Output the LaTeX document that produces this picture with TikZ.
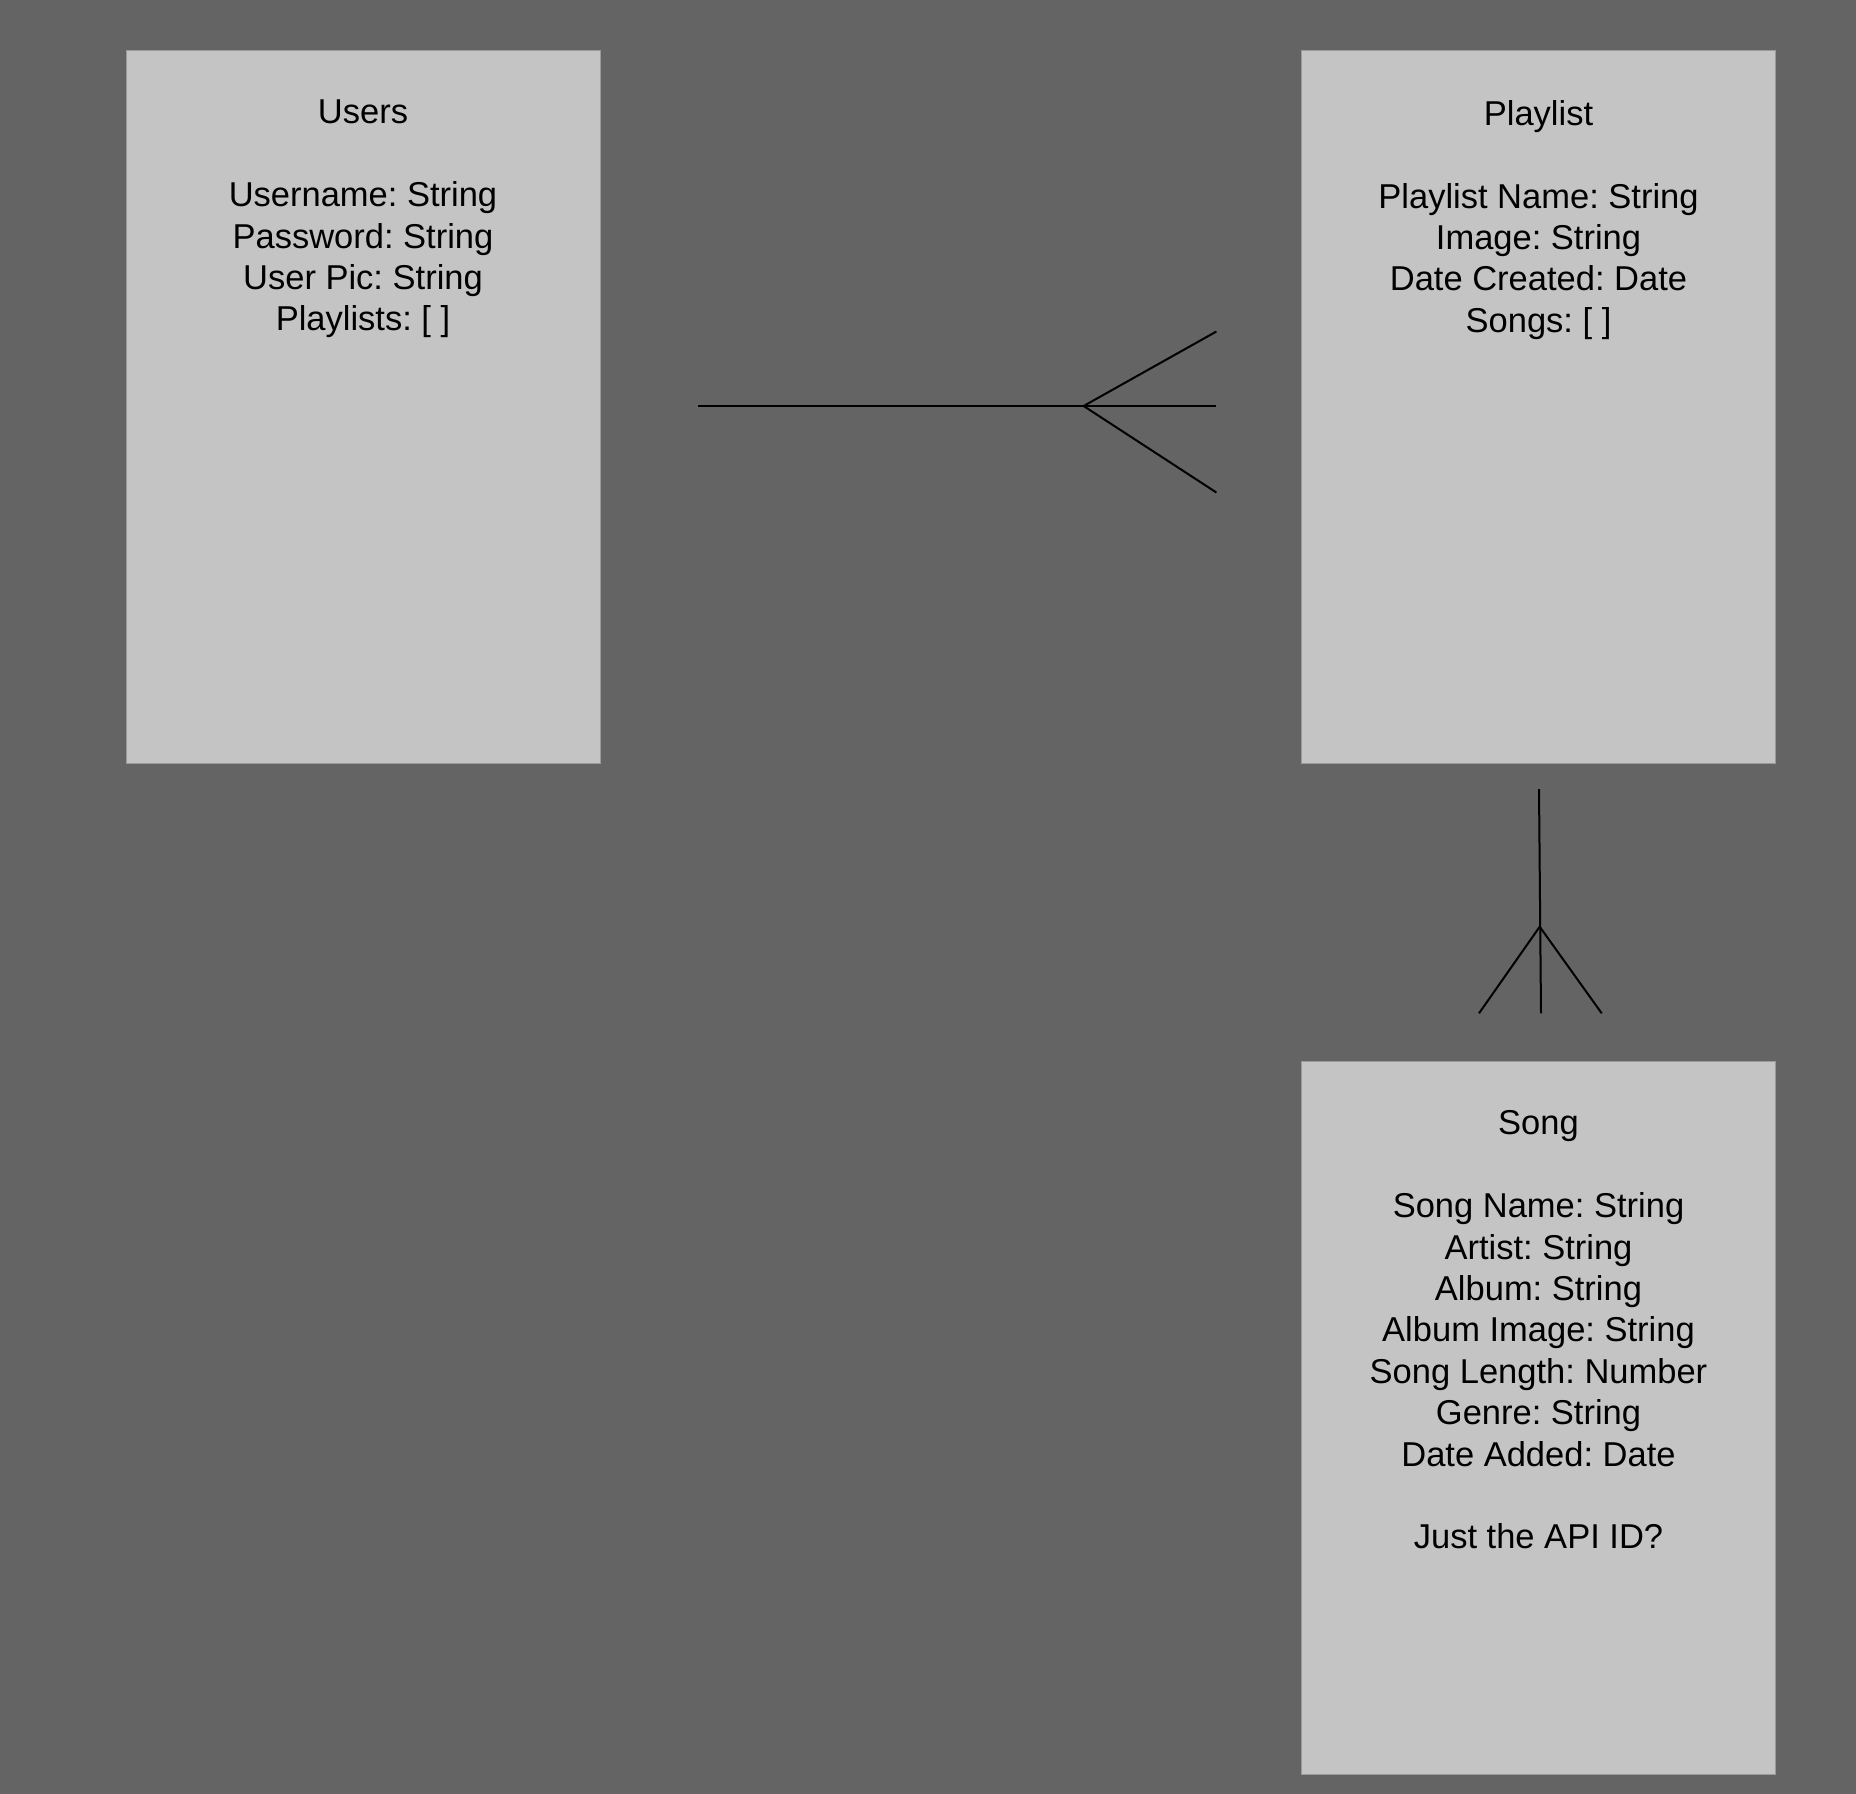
\documentclass[tikz,border=0pt]{standalone}
\usepackage{fontspec}
\setmainfont{Liberation Sans}
\frenchspacing
\definecolor{bgc}{HTML}{646464}
\definecolor{boxc}{HTML}{C4C4C4}
\definecolor{edgec}{HTML}{9A9A9A}
\begin{document}
\begin{tikzpicture}[x=1pt,y=-1pt,
  entity/.style={draw=edgec,line width=1pt,fill=boxc,minimum width=474pt,minimum height=713pt,inner sep=0pt,anchor=north west},
  etext/.style={anchor=north,inner sep=0pt,align=center,font=\fontsize{34.5}{41.4}\selectfont,text=black},
  rel/.style={draw=black,line width=2pt}]
\fill[bgc] (0,0) rectangle (1856,1794);
\useasboundingbox (0,0) rectangle (1856,1794);
\node[entity] (users) at (125.5,50) {};
\node[entity] (playlist) at (1301,50) {};
\node[entity] (song) at (1301,1061) {};
\node[etext] (userstext) at ([yshift=-50pt]users.north) {Users\\[41.4pt]Username: String\\Password: String\\User Pic: String\\Playlists: [ ]};
\node[etext] (playlisttext) at ([yshift=-50pt]playlist.north) {Playlist\\[41.4pt]Playlist Name: String\\Image: String\\Date Created: Date\\Songs: [ ]};
\node[etext] (songtext) at ([yshift=-49.5pt]song.north) {Song\\[41.4pt]Song Name: String\\Artist: String\\Album: String\\Album Image: String\\Song Length: Number\\Genre: String\\Date Added: Date\\[41.4pt]Just the API ID?};
% Users - Playlist (one to many)
\coordinate (a1) at (698,406);
\coordinate (a2) at (1083.6,406);
\coordinate (a3) at (1216.4,406);
\coordinate (a4) at (1216.4,331.5);
\coordinate (a5) at (1216.4,492.5);
\draw[rel] (a1) -- (a3);
\draw[rel] (a4) -- (a2) -- (a5);
% Playlist - Song (one to many)
\coordinate (b1) at (1539,789);
\coordinate (b2) at (1539.7,926.7);
\coordinate (b3) at (1541,1013.3);
\coordinate (b4) at (1479,1013.3);
\coordinate (b5) at (1601.7,1013.3);
\draw[rel] (b1) -- (b3);
\draw[rel] (b4) -- (b2) -- (b5);
\end{tikzpicture}
\end{document}
